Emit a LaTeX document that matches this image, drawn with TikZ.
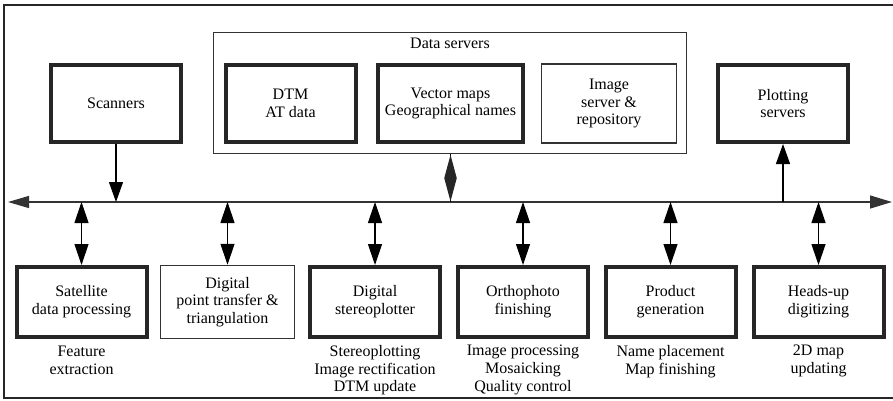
\documentclass[tikz,border=0pt]{standalone}
\usepackage{fontspec}
\setmainfont{Liberation Serif}
\usetikzlibrary{arrows.meta,shapes.geometric}

\begin{document}
\begin{tikzpicture}[x=1pt, y=-1pt, font=\fontsize{16}{17.8}\selectfont,
  heavybox/.style={draw=black!85, line width=4pt, minimum width=130, minimum height=77, align=center},
  lightbox/.style={draw=black!80, line width=1.5pt, minimum width=133, minimum height=79, align=center},
  note/.style={anchor=north, align=center, inner sep=0pt},
  tip/.style={-{Triangle[length=20pt, width=14pt]}},
  dbltip/.style={{Triangle[length=21pt, width=14pt]}-{Triangle[length=21pt, width=14pt]}}]

\useasboundingbox (0,0) rectangle (893,401);

% frame, open on the right
\draw[line width=2pt, black!85] (893,5) -- (4,5) -- (4,398) -- (893,398);

% data servers, top
\node[lightbox, minimum width=473, minimum height=121] at (450, 93) (dsrv) {};
\node at (450, 43) (dsrvtitle) {Data servers};
\node[heavybox] at (290.5, 103.5) (dtm) {DTM\\AT data};
\node[heavybox, minimum width=145] at (450.5, 103.5) (vec) {Vector maps\\Geographical names};
\node[lightbox, minimum width=135] at (609, 103.5) (img) {Image\\server \&\\repository};

% scanners and plotting servers, top
\node[heavybox] at (116, 103.5) (scan) {Scanners};
\node[heavybox] at (783, 103.5) (plot) {Plotting\\servers};

% network line
\coordinate (busL) at (8, 202);
\coordinate (busR) at (892, 202);
\draw[black!80, line width=1.2pt, {Triangle[length=21pt, width=12pt]}-{Triangle[length=22pt, width=13pt]}] (busL) -- (busR);

\draw[tip, line width=1.2pt] (scan.south) -- (scan.south |- busL);
\draw[tip, line width=1.2pt] (plot.south |- busL) -- (plot.south);
\draw[line width=1.2pt] (dsrv.south -| vec) -- (vec |- busL)
  node[midway, diamond, fill=black!85, minimum width=13, minimum height=47, inner sep=0pt] (dmd) {};

% work stations, bottom
\node[heavybox, minimum height=70] at (81.5, 302) (sat) {Satellite\\data processing};
\node[lightbox, minimum width=134, minimum height=73] at (227.5, 302) (apt) {Digital\\point transfer \&\\triangulation};
\node[heavybox, minimum height=70] at (375, 302) (stereo) {Digital\\stereoplotter};
\node[heavybox, minimum height=70] at (523, 302) (ortho) {Orthophoto\\finishing};
\node[heavybox, minimum height=70] at (670.5, 302) (prod) {Product\\generation};
\node[heavybox, minimum height=70] at (818.5, 302) (hud) {Heads-up\\digitizing};

\foreach \ws in {sat, apt, stereo, ortho, prod, hud}
  \draw[dbltip, line width=1.2pt] (\ws.north |- busL) -- (\ws.north);

% tasks under the stations
\node[note] at (81.5, 346) (satnote) {Feature\\extraction};
\node[note] at (375, 345) (stereonote) {Stereoplotting\\Image rectification\\DTM update};
\node[note] at (523, 345) (orthonote) {Image processing\\Mosaicking\\Quality control};
\node[note] at (670.5, 345) (prodnote) {Name placement\\Map finishing};
\node[note] at (818.5, 345) (hudnote) {2D map\\updating};

\end{tikzpicture}
\end{document}
